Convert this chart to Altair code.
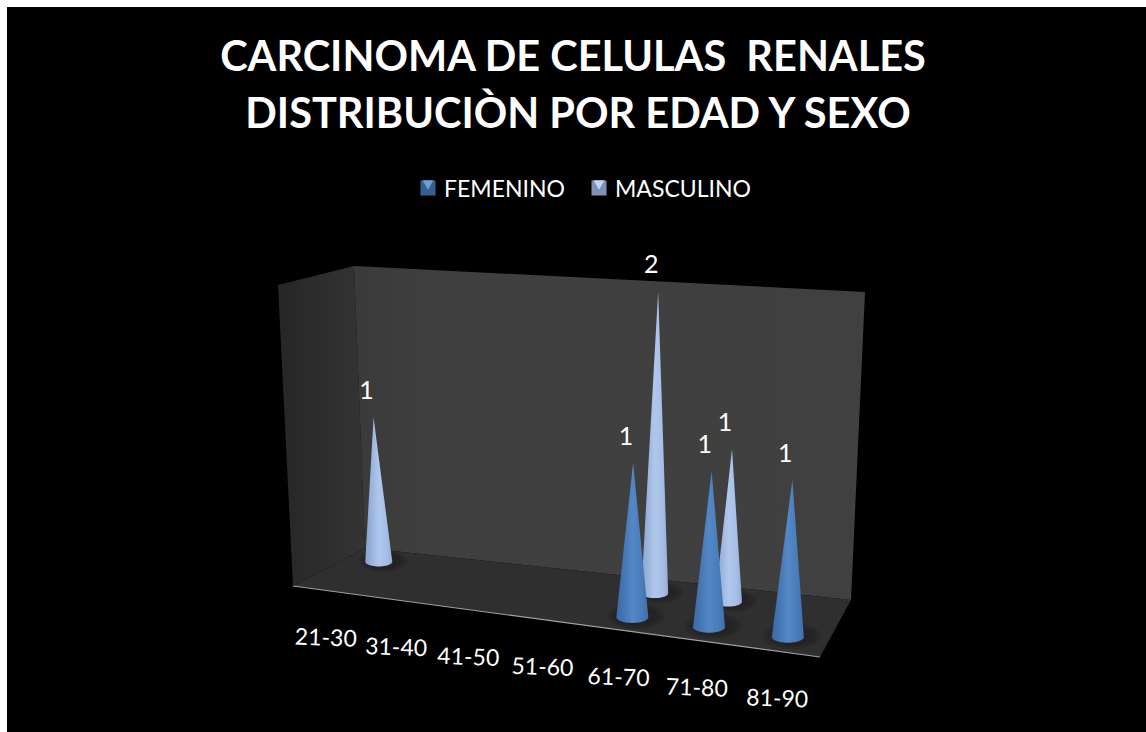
import altair as alt
import numpy as np
import pandas as pd

# Chart content
TITLE_LINES = ["CARCINOMA DE CELULAS\u00a0 RENALES", "DISTRIBUCIÒN POR EDAD Y SEXO"]
AGE_GROUPS = ["21-30", "31-40", "41-50", "51-60", "61-70", "71-80", "81-90"]
FEMENINO = [0, 0, 0, 0, 1, 1, 1]
MASCULINO = [1, 0, 0, 0, 2, 1, 0]
SERIES = ["FEMENINO", "MASCULINO"]

# 3D box of the plot, as seen on the page (floor and ceiling corners)
FLOOR = {"fl": (293, 586), "fr": (820, 657), "bl": (365, 548), "br": (851, 600)}
CEIL = {"fl": (278, 285), "fr": (830, 338), "bl": (354, 266), "br": (865, 292)}
VALUE_MAX = 2
PERSPECTIVE = -0.09
DEPTH = {"FEMENINO": 0.26, "MASCULINO": 0.74}
RADIUS = {"FEMENINO": 16.0, "MASCULINO": 13.5}

FONT = "Lato"
W, H = 1146, 732
PX = alt.Scale(domain=[0, W], range=[0, W], nice=False, zero=False)
PY = alt.Scale(domain=[0, H], range=[0, H], nice=False, zero=False)
X = alt.X("x:Q", scale=PX, axis=None)
Y = alt.Y("y:Q", scale=PY, axis=None)


def warp(u):
    return (1 + PERSPECTIVE) * u / (1 + PERSPECTIVE * u)


def on_plane(plane, u, v):
    s = warp(u)
    fx = plane["fl"][0] + (plane["fr"][0] - plane["fl"][0]) * s
    fy = plane["fl"][1] + (plane["fr"][1] - plane["fl"][1]) * s
    bx = plane["bl"][0] + (plane["br"][0] - plane["bl"][0]) * s
    by = plane["bl"][1] + (plane["br"][1] - plane["bl"][1]) * s
    return fx + (bx - fx) * v, fy + (by - fy) * v


def project(i, series, value):
    u = (i + 0.5) / len(AGE_GROUPS)
    x0, y0 = on_plane(FLOOR, u, DEPTH[series])
    x1, y1 = on_plane(CEIL, u, DEPTH[series])
    t = value / VALUE_MAX
    return x0 + (x1 - x0) * t, y0 + (y1 - y0) * t


def band(vertices):
    """Upper and lower outline of a convex polygon, for an area mark."""
    xs = sorted({float(v[0]) for v in vertices})
    rows = []
    for x in xs:
        ys = []
        for a, b in zip(vertices, vertices[1:] + vertices[:1]):
            lo, hi = min(a[0], b[0]), max(a[0], b[0])
            if lo <= x <= hi:
                if a[0] == b[0]:
                    ys += [a[1], b[1]]
                else:
                    ys.append(a[1] + (b[1] - a[1]) * (x - a[0]) / (b[0] - a[0]))
        rows.append({"x": x, "y": min(ys), "y2": max(ys)})
    return pd.DataFrame(rows)


def area(df, fill, opacity=1.0):
    return (
        alt.Chart(df)
        .mark_area(color=fill, opacity=opacity, interpolate="linear", line=False, clip=True)
        .encode(X, Y, y2="y2:Q")
    )


def ellipse(cx, cy, a, b):
    t = np.linspace(0, 2 * np.pi, 49)[:-1]
    return [(cx + a * np.cos(k), cy + b * np.sin(k)) for k in t]


def hgrad(stops):
    return alt.Gradient(
        gradient="linear", x1=0, x2=1, y1=0, y2=0,
        stops=[alt.GradientStop(offset=o, color=c) for o, c in stops],
    )


def text(rows, size, weight="normal", angle=0, dx=0, dy=0, color="white", align="center"):
    return (
        alt.Chart(pd.DataFrame(rows))
        .mark_text(font=FONT, fontSize=size, fontWeight=weight, angle=angle, dx=dx, dy=dy,
                   color=color, align=align, baseline="middle")
        .encode(X, Y, text="t:N")
    )


CONE_FILL = {
    "FEMENINO": hgrad([(0, "#3a68a5"), (0.5, "#5387c5"), (0.8, "#4a7cba"), (1, "#3f6fab")]),
    "MASCULINO": hgrad([(0, "#88a2cd"), (0.5, "#b0c7ec"), (0.8, "#a6bee6"), (1, "#93acd8")]),
}


def cone(i, series, value):
    cx, cy = project(i, series, 0)
    ax, ay = project(i, series, value)
    a = RADIUS[series]
    b = a * 0.36
    pts = ellipse(cx, cy, a, b)
    rows = []
    xs = sorted({p[0] for p in pts} | {ax})
    for x in xs:
        if x <= ax:
            top = cy + (ay - cy) * (x - (cx - a)) / (ax - (cx - a))
        else:
            top = cy + (ay - cy) * ((cx + a) - x) / ((cx + a) - ax)
        bottom = cy + b * np.sqrt(max(0.0, 1 - ((x - cx) / a) ** 2))
        rows.append({"x": x, "y": top, "y2": bottom})
    shadow = [
        area(band(ellipse(cx + 4, cy - 1, a * f, b * f * 1.25)), "#1c1c1c", 0.22)
        for f in (1.8, 1.55, 1.3)
    ]
    return shadow + [area(pd.DataFrame(rows), CONE_FILL[series])]


layers = [
    alt.Chart(pd.DataFrame([{"x": 7, "x2": W, "y": 7, "y2": H}]))
    .mark_rect(color="black")
    .encode(X, x2="x2:Q", y=Y, y2="y2:Q")
]

# Box walls and floor
layers.append(area(band([FLOOR["bl"], CEIL["bl"], CEIL["fl"], FLOOR["fl"]]),
                   hgrad([(0, "#262626"), (1, "#343434")])))
layers.append(area(band([CEIL["bl"], CEIL["br"], FLOOR["br"], FLOOR["bl"]]),
                   hgrad([(0, "#3a3a3a"), (0.15, "#3f3f3f"), (1, "#404040")])))
layers.append(area(band([FLOOR["bl"], FLOOR["br"], FLOOR["fr"], FLOOR["fl"]]), "#2f2f2f"))
layers.append(
    alt.Chart(pd.DataFrame([{"x": FLOOR["fl"][0], "y": FLOOR["fl"][1]},
                            {"x": FLOOR["fr"][0], "y": FLOOR["fr"][1]}]))
    .mark_line(color="#a0a0a0", strokeWidth=1.2)
    .encode(X, Y)
)

# Cones, rear series first so the front one overlaps it
for series, values in (("MASCULINO", MASCULINO), ("FEMENINO", FEMENINO)):
    for i, value in enumerate(values):
        if value:
            layers.extend(cone(i, series, value))

# Value labels above each apex
value_rows = []
for series, values in (("FEMENINO", FEMENINO), ("MASCULINO", MASCULINO)):
    for i, value in enumerate(values):
        if value:
            ax, ay = project(i, series, value)
            value_rows.append({"x": ax, "y": ay, "t": str(value)})
layers.append(text(value_rows, 25, dx=-7, dy=-26))

# Category labels along the front edge of the floor
label_rows = []
for i, name in enumerate(AGE_GROUPS):
    fx, fy = on_plane(FLOOR, (i + 0.5) / len(AGE_GROUPS), 0)
    label_rows.append({"x": fx, "y": fy, "t": name})
layers.append(text(label_rows, 23, angle=2, dx=0, dy=48))

# Title
layers.append(text([{"x": 573, "y": 59, "t": TITLE_LINES[0]}], 41.5, weight="bold"))
layers.append(text([{"x": 578, "y": 116, "t": TITLE_LINES[1]}], 41.5, weight="bold"))

# Legend
legend_swatch = {"FEMENINO": ("#36618f", "#6c9ed8"), "MASCULINO": ("#7d92b6", "#c2d6f5")}
legend_x = {"FEMENINO": 428, "MASCULINO": 599}
for name in SERIES:
    outer, inner = legend_swatch[name]
    row = pd.DataFrame([{"x": legend_x[name], "y": 188}])
    layers.append(alt.Chart(row).mark_square(size=225, color=outer, opacity=1).encode(X, Y))
    layers.append(
        alt.Chart(pd.DataFrame([{"x": legend_x[name], "y": 185}]))
        .mark_point(shape="triangle-down", size=120, color=inner, filled=True, opacity=1)
        .encode(X, Y)
    )
    layers.append(text([{"x": legend_x[name] + 16, "y": 190, "t": name}], 23, align="left"))

chart = (
    alt.layer(*layers)
    .properties(width=W, height=H, padding=0, autosize=alt.AutoSizeParams(type="none"),
                background="white")
    .configure_view(stroke=None)
)

chart.save("out.html", embed_options={"renderer": "svg", "actions": False})
